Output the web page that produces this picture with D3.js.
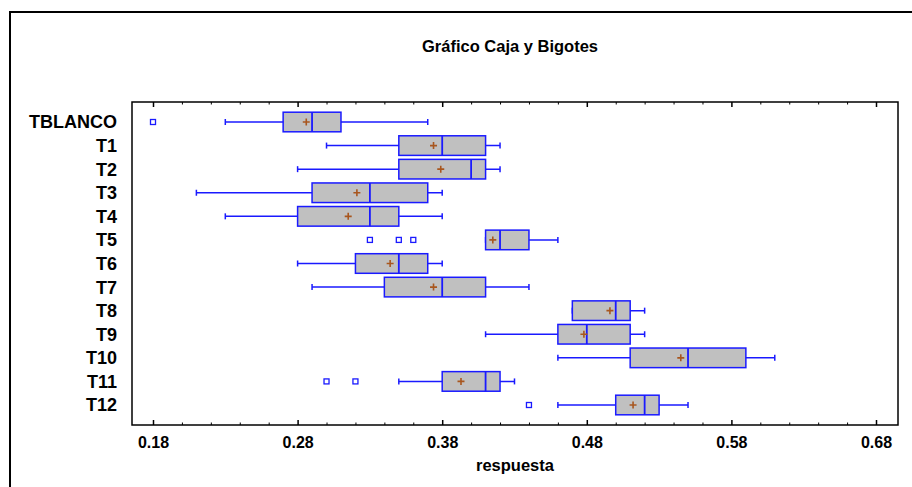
<!DOCTYPE html>
<html>
<head>
<meta charset="utf-8">
<script src="https://cdn.jsdelivr.net/npm/d3@7"></script>
<style>
  body { margin: 0; background: #fff; }
  text { font-family: "Liberation Sans", Arial, sans-serif; font-weight: bold; }
</style>
</head>
<body>
<script>
// data
var categories = ["TBLANCO", "T1", "T2", "T3", "T4", "T5", "T6", "T7", "T8", "T9", "T10", "T11", "T12"];
var whiskerLow  = [0.23, 0.30, 0.28, 0.21, 0.23, 0.41, 0.28, 0.29, 0.47, 0.41, 0.46, 0.35, 0.46];
var q1          = [0.27, 0.35, 0.35, 0.29, 0.28, 0.41, 0.32, 0.34, 0.47, 0.46, 0.51, 0.38, 0.50];
var median      = [0.29, 0.38, 0.40, 0.33, 0.33, 0.42, 0.35, 0.38, 0.50, 0.48, 0.55, 0.41, 0.52];
var q3          = [0.31, 0.41, 0.41, 0.37, 0.35, 0.44, 0.37, 0.41, 0.51, 0.51, 0.59, 0.42, 0.53];
var whiskerHigh = [0.37, 0.42, 0.42, 0.38, 0.38, 0.46, 0.38, 0.44, 0.52, 0.52, 0.61, 0.43, 0.55];
var means       = [0.286, 0.374, 0.379, 0.321, 0.315, 0.415, 0.344, 0.374, 0.496, 0.478, 0.545, 0.393, 0.512];
var outliers    = [[0.18], [], [], [], [], [0.33, 0.35, 0.36], [], [], [], [], [], [0.30, 0.32], [0.44]];
var majorTicks = [0.18, 0.28, 0.38, 0.48, 0.58, 0.68];
var minorTicks = [0.20, 0.22, 0.24, 0.26, 0.30, 0.32, 0.34, 0.36, 0.40, 0.42, 0.44, 0.46,
                  0.50, 0.52, 0.54, 0.56, 0.60, 0.62, 0.64, 0.66];

var W = 912, H = 487;
var frame = {left: 132, top: 102, right: 898, bottom: 425};

var svg = d3.select("body").append("svg")
  .attr("width", W)
  .attr("height", H);

// outer border (runs off the right and bottom)
svg.append("rect")
  .attr("x", 10).attr("y", 12)
  .attr("width", 920).attr("height", 500)
  .attr("fill", "none").attr("stroke", "#000").attr("stroke-width", 2);

var x = d3.scaleLinear().domain([0.18, 0.68]).range([153, 876]);
var y = d3.scalePoint().domain(categories).range([122, 405]);
var boxH = 19.6;

// title
svg.append("text")
  .attr("x", 510).attr("y", 52)
  .attr("text-anchor", "middle")
  .style("font-size", "16.5px")
  .text("Gráfico Caja y Bigotes");

// plot frame
svg.append("rect")
  .attr("x", frame.left).attr("y", frame.top)
  .attr("width", frame.right - frame.left).attr("height", frame.bottom - frame.top)
  .attr("fill", "none").attr("stroke", "#000").attr("stroke-width", 1.5);

// bottom axis, ticks point inward
var bottomAxis = svg.append("g")
  .attr("transform", "translate(0," + frame.bottom + ")")
  .call(d3.axisBottom(x).tickValues(majorTicks).tickSize(-5).tickPadding(12)
    .tickFormat(d3.format(".2f")));
bottomAxis.select(".domain").remove();
bottomAxis.selectAll("text").style("font-size", "16px").attr("fill", "#000");
bottomAxis.selectAll("line").attr("stroke-width", 1.5);

var bottomMinor = svg.append("g")
  .attr("transform", "translate(0," + frame.bottom + ")")
  .call(d3.axisBottom(x).tickValues(minorTicks).tickSize(-2.5).tickFormat(""));
bottomMinor.select(".domain").remove();

// top axis, ticks point inward
var topAxis = svg.append("g")
  .attr("transform", "translate(0," + frame.top + ")")
  .call(d3.axisTop(x).tickValues(majorTicks).tickSize(-5).tickFormat(""));
topAxis.select(".domain").remove();
topAxis.selectAll("line").attr("stroke-width", 1.5);

var topMinor = svg.append("g")
  .attr("transform", "translate(0," + frame.top + ")")
  .call(d3.axisTop(x).tickValues(minorTicks).tickSize(-2.5).tickFormat(""));
topMinor.select(".domain").remove();

// category labels
svg.selectAll(".cat")
  .data(categories)
  .enter().append("text")
  .attr("class", "cat")
  .attr("x", 117)
  .attr("y", function(d) { return y(d); })
  .attr("dy", "0.36em")
  .attr("text-anchor", "end")
  .style("font-size", "18px")
  .text(function(d) { return d; });

var blue = "#1a1aff";

var rows = svg.selectAll(".row")
  .data(categories)
  .enter().append("g")
  .attr("class", "row")
  .attr("transform", function(d) { return "translate(0," + y(d) + ")"; });

// whiskers
rows.append("line")
  .attr("x1", function(d, i) { return x(whiskerLow[i]); })
  .attr("x2", function(d, i) { return x(whiskerHigh[i]); })
  .attr("stroke", blue).attr("stroke-width", 1.5);

rows.append("line")
  .attr("x1", function(d, i) { return x(whiskerLow[i]); })
  .attr("x2", function(d, i) { return x(whiskerLow[i]); })
  .attr("y1", -3).attr("y2", 3)
  .attr("stroke", blue).attr("stroke-width", 1.5);

rows.append("line")
  .attr("x1", function(d, i) { return x(whiskerHigh[i]); })
  .attr("x2", function(d, i) { return x(whiskerHigh[i]); })
  .attr("y1", -3).attr("y2", 3)
  .attr("stroke", blue).attr("stroke-width", 1.5);

// boxes
rows.append("rect")
  .attr("x", function(d, i) { return x(q1[i]); })
  .attr("y", -boxH / 2)
  .attr("width", function(d, i) { return x(q3[i]) - x(q1[i]); })
  .attr("height", boxH)
  .attr("fill", "#c0c0c0")
  .attr("stroke", blue).attr("stroke-width", 1.5);

// medians
rows.append("line")
  .attr("x1", function(d, i) { return x(median[i]); })
  .attr("x2", function(d, i) { return x(median[i]); })
  .attr("y1", -boxH / 2).attr("y2", boxH / 2)
  .attr("stroke", blue).attr("stroke-width", 1.8);

// means
var meanColor = "#a8561e";
rows.append("path")
  .attr("d", function(d, i) {
    var cx = x(means[i]);
    return "M" + (cx - 3.5) + ",0H" + (cx + 3.5) + "M" + cx + ",-3.5V3.5";
  })
  .attr("stroke", meanColor).attr("stroke-width", 1.6).attr("fill", "none");

// outliers
rows.selectAll(".out")
  .data(function(d, i) { return outliers[i]; })
  .enter().append("rect")
  .attr("class", "out")
  .attr("x", function(v) { return x(v) - 2.5; })
  .attr("y", -2.5)
  .attr("width", 5).attr("height", 5)
  .attr("fill", "#fff")
  .attr("stroke", blue).attr("stroke-width", 1.3);

// axis title
svg.append("text")
  .attr("x", 515).attr("y", 471)
  .attr("text-anchor", "middle")
  .style("font-size", "16.5px")
  .text("respuesta");
</script>
</body>
</html>
